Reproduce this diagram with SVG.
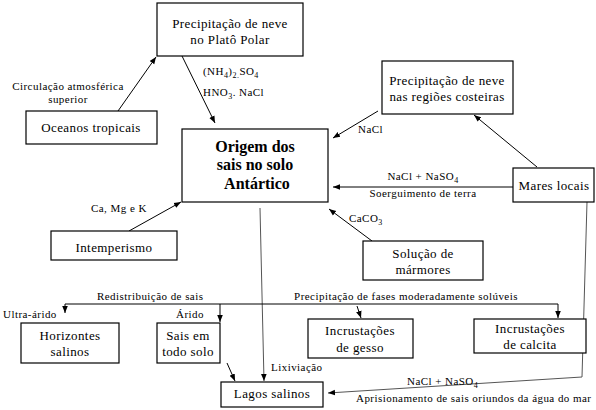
<svg xmlns="http://www.w3.org/2000/svg" width="596" height="410" viewBox="0 0 596 410" font-family="'Liberation Serif', 'Times New Roman', 'DejaVu Serif', serif">
<defs>
<marker id="ah" viewBox="0 0 10 10" refX="10" refY="5" markerWidth="7" markerHeight="7" orient="auto" markerUnits="userSpaceOnUse">
<path d="M0,1 L10,5 L0,9 z" fill="#000"/>
</marker>
</defs>
<style>
rect{fill:#fff;stroke:#000;stroke-width:1.2}
text{font-family:'Liberation Serif','Times New Roman','DejaVu Serif',serif;fill:#000}
.b{font-size:13px;text-anchor:middle;letter-spacing:0.4px}
.t{font-size:16px;font-weight:bold;text-anchor:middle}
.l{font-size:11px;letter-spacing:0.45px}
.c{text-anchor:middle}
.s{font-size:8px}
#conn line,#conn path{stroke:#000;stroke-width:1;fill:none}
#conn .g{stroke:#555}
</style>
<rect x="0" y="0" width="596" height="410" style="fill:#fff;stroke:none"/>
<g id="conn">
<line x1="118" y1="111" x2="156" y2="57" marker-end="url(#ah)"/>
<line x1="182" y1="56" x2="215" y2="123" marker-end="url(#ah)"/>
<line x1="378" y1="111" x2="333" y2="138" marker-end="url(#ah)"/>
<line x1="537" y1="167" x2="474" y2="115" marker-end="url(#ah)"/>
<line x1="513" y1="187" x2="333" y2="187" marker-end="url(#ah)"/>
<line x1="372" y1="241" x2="329" y2="209" marker-end="url(#ah)"/>
<line x1="129" y1="231" x2="181" y2="202" marker-end="url(#ah)"/>
<line class="g" x1="260" y1="208" x2="264" y2="381" marker-end="url(#ah)"/>
<line x1="227" y1="363" x2="235" y2="381" marker-end="url(#ah)"/>
<path d="M65,304 H558 V318" marker-end="url(#ah)"/>
<line x1="65" y1="304" x2="65" y2="313" marker-end="url(#ah)"/>
<line x1="220" y1="304" x2="220" y2="322" marker-end="url(#ah)"/>
<line x1="357" y1="306" x2="361" y2="318" marker-end="url(#ah)"/>
<path class="g" d="M587,202 L582,377 L328,393" marker-end="url(#ah)"/>
</g>
<g id="labels">
<text class="l c" x="68" y="90">Circulação atmosférica</text>
<text class="l c" x="68" y="103">superior</text>
<text class="l" x="203" y="75">(NH<tspan class="s" dy="3">4</tspan><tspan dy="-3">)</tspan><tspan class="s" dy="3">2.</tspan><tspan dy="-3">SO</tspan><tspan class="s" dy="3">4</tspan></text>
<text class="l" x="203" y="96">HNO<tspan class="s" dy="3">3</tspan><tspan dy="-3">. NaCl</tspan></text>
<text class="l" x="358" y="133">NaCl</text>
<text class="l c" x="423" y="180">NaCl + NaSO<tspan class="s" dy="3">4</tspan></text>
<text class="l c" x="423" y="197">Soerguimento de terra</text>
<text class="l" x="349" y="222">CaCO<tspan class="s" dy="3">3</tspan></text>
<text class="l" x="91" y="212">Ca, Mg e K</text>
<text class="l" x="97" y="300">Redistribuição de sais</text>
<text class="l" x="3" y="318">Ultra-árido</text>
<text class="l" x="176" y="318">Árido</text>
<text class="l c" x="406" y="300">Precipitação de fases moderadamente solúveis</text>
<text class="l" x="271" y="371">Lixiviação</text>
<text class="l" x="407" y="385">NaCl + NaSO<tspan class="s" dy="3">4</tspan></text>
<text class="l" x="356" y="402">Aprisionamento de sais oriundos da água do mar</text>
</g>
<g id="n-plato"><rect x="157" y="3" width="146" height="53"/><text class="b" x="230" y="28">Precipitação de neve</text><text class="b" x="230" y="44">no Platô Polar</text></g>
<g id="n-oceanos"><rect x="26" y="111" width="131" height="33"/><text class="b" x="91" y="132">Oceanos tropicais</text></g>
<g id="n-origem"><rect x="182" y="129" width="146" height="73"/><text class="t" x="255" y="152">Origem dos</text><text class="t" x="255" y="170">sais no solo</text><text class="t" x="257" y="189">Antártico</text></g>
<g id="n-costeiras"><rect x="382" y="61" width="131" height="53"/><text class="b" x="447" y="85">Precipitação de neve</text><text class="b" x="447" y="101">nas regiões costeiras</text></g>
<g id="n-mares"><rect x="513" y="168" width="81" height="34"/><text class="b" x="554" y="190">Mares locais</text></g>
<g id="n-intemperismo"><rect x="51" y="231" width="126" height="29"/><text class="b" x="114" y="252">Intemperismo</text></g>
<g id="n-solucao"><rect x="363" y="241" width="120" height="39"/><text class="b" x="423" y="258">Solução de</text><text class="b" x="423" y="274">mármores</text></g>
<g id="n-horizontes"><rect x="21" y="323" width="98" height="40"/><text class="b" x="70" y="340">Horizontes</text><text class="b" x="70" y="356">salinos</text></g>
<g id="n-sais"><rect x="157" y="323" width="63" height="40"/><text class="b" x="188" y="340">Sais em</text><text class="b" x="188" y="356">todo solo</text></g>
<g id="n-lagos"><rect x="221" y="382" width="102" height="25"/><text class="b" x="272" y="398">Lagos salinos</text></g>
<g id="n-gesso"><rect x="308" y="319" width="105" height="39"/><text class="b" x="360" y="335">Incrustações</text><text class="b" x="360" y="352">de gesso</text></g>
<g id="n-calcita"><rect x="474" y="319" width="112" height="34"/><text class="b" x="530" y="333">Incrustações</text><text class="b" x="530" y="349">de calcita</text></g>
</svg>
